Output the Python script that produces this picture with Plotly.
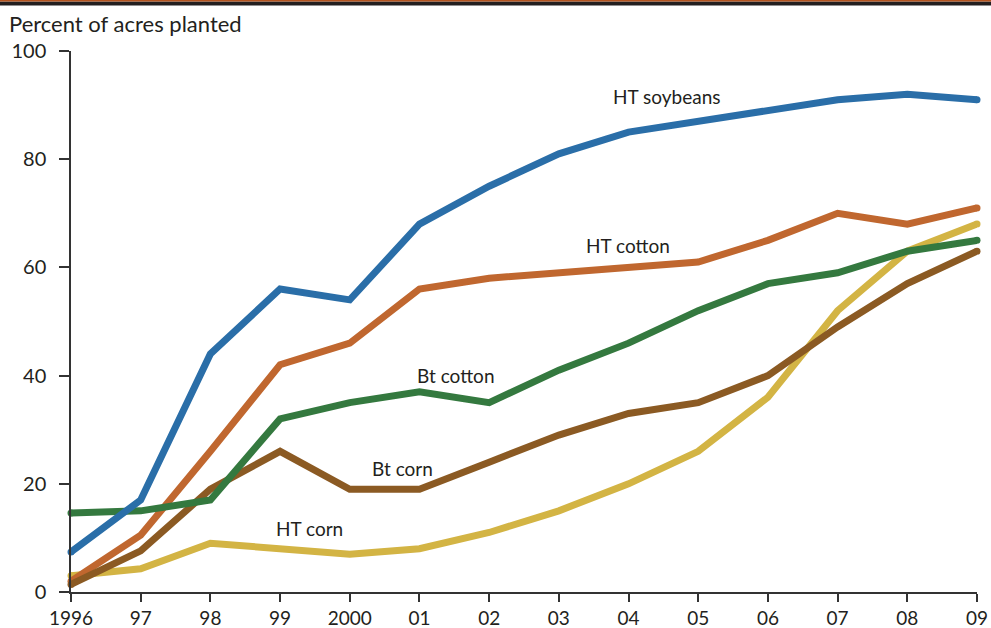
import plotly.graph_objects as go

years = list(range(1996, 2010))
tick_labels = ["1996", "97", "98", "99", "2000", "01", "02", "03", "04", "05", "06", "07", "08", "09"]

ht_soybeans = [7.4, 17, 44, 56, 54, 68, 75, 81, 85, 87, 89, 91, 92, 91]
ht_cotton = [2, 10.5, 26, 42, 46, 56, 58, 59, 60, 61, 65, 70, 68, 71]
bt_cotton = [14.6, 15, 17, 32, 35, 37, 35, 41, 46, 52, 57, 59, 63, 65]
bt_corn = [1.4, 7.6, 19, 26, 19, 19, 24, 29, 33, 35, 40, 49, 57, 63]
ht_corn = [3, 4.3, 9, 8, 7, 8, 11, 15, 20, 26, 36, 52, 63, 68]

series = [
    ("HT corn", ht_corn, "#d3b444"),
    ("HT cotton", ht_cotton, "#c0672f"),
    ("Bt corn", bt_corn, "#8b5a23"),
    ("Bt cotton", bt_cotton, "#34793f"),
    ("HT soybeans", ht_soybeans, "#2a6ea8"),
]

font_family = "Lato, 'Open Sans', sans-serif"

fig = go.Figure()
for name, vals, color in series:
    fig.add_trace(go.Scatter(
        x=years, y=vals, mode="lines", name=name,
        line=dict(color=color, width=7, shape="linear"),
        cliponaxis=False, showlegend=False,
    ))
    fig.add_trace(go.Scatter(
        x=[years[0], years[-1]], y=[vals[0], vals[-1]], mode="markers",
        marker=dict(color=color, size=7, line=dict(width=0)),
        cliponaxis=False, showlegend=False, hoverinfo="skip",
    ))

labels = [
    ("HT soybeans", 2004.54, 91.5),
    ("HT cotton", 2003.99, 64.0),
    ("Bt cotton", 2001.51, 40.1),
    ("Bt corn", 2000.75, 22.9),
    ("HT corn", 1999.42, 11.8),
]
for text, x, y in labels:
    fig.add_annotation(x=x, y=y, text=text, showarrow=False,
                       font=dict(family=font_family, size=19, color="#231f20"),
                       xanchor="center", yanchor="middle")

fig.add_annotation(xref="paper", yref="paper", x=-0.0705, y=1.0, yshift=12,
                   text="Percent of acres planted", showarrow=False,
                   xanchor="left", yanchor="bottom",
                   font=dict(family=font_family, size=22, color="#231f20"))

fig.update_layout(
    width=991, height=628,
    margin=dict(l=71, r=14, t=51, b=36),
    paper_bgcolor="white", plot_bgcolor="white",
    font=dict(family=font_family, color="#231f20"),
    shapes=[
        dict(type="rect", xref="paper", yref="paper", x0=-0.1, x1=1.1,
             ysizemode="pixel", yanchor=1.0, y0=45.5, y1=49.5,
             fillcolor="#231f20", line=dict(width=0)),
        dict(type="rect", xref="paper", yref="paper", x0=-0.1, x1=1.1,
             ysizemode="pixel", yanchor=1.0, y0=49.5, y1=52,
             fillcolor="#b5541f", line=dict(width=0)),
    ],
)

fig.update_xaxes(
    range=[1996, 2009], tickvals=years, ticktext=tick_labels, automargin=False,
    showgrid=False, zeroline=False, showline=True, linecolor="#333333", linewidth=1.5,
    ticks="outside", ticklen=8, tickwidth=1.5, tickcolor="#333333",
    ticklabelstandoff=0,
    tickfont=dict(size=19, family=font_family, color="#231f20"),
)
fig.update_yaxes(
    range=[0, 100], tickvals=[0, 20, 40, 60, 80, 100], automargin=False,
    showgrid=False, zeroline=False, showline=True, linecolor="#333333", linewidth=1.5,
    ticks="outside", ticklen=10, tickwidth=1.5, tickcolor="#333333",
    ticklabelstandoff=9,
    tickfont=dict(size=20, family=font_family, color="#231f20"),
)

fig.write_html(
    "out.html",
    config={"displayModeBar": False},
    post_script="document.body.style.margin='0';document.body.style.padding='0';document.body.style.overflow='hidden';",
)
